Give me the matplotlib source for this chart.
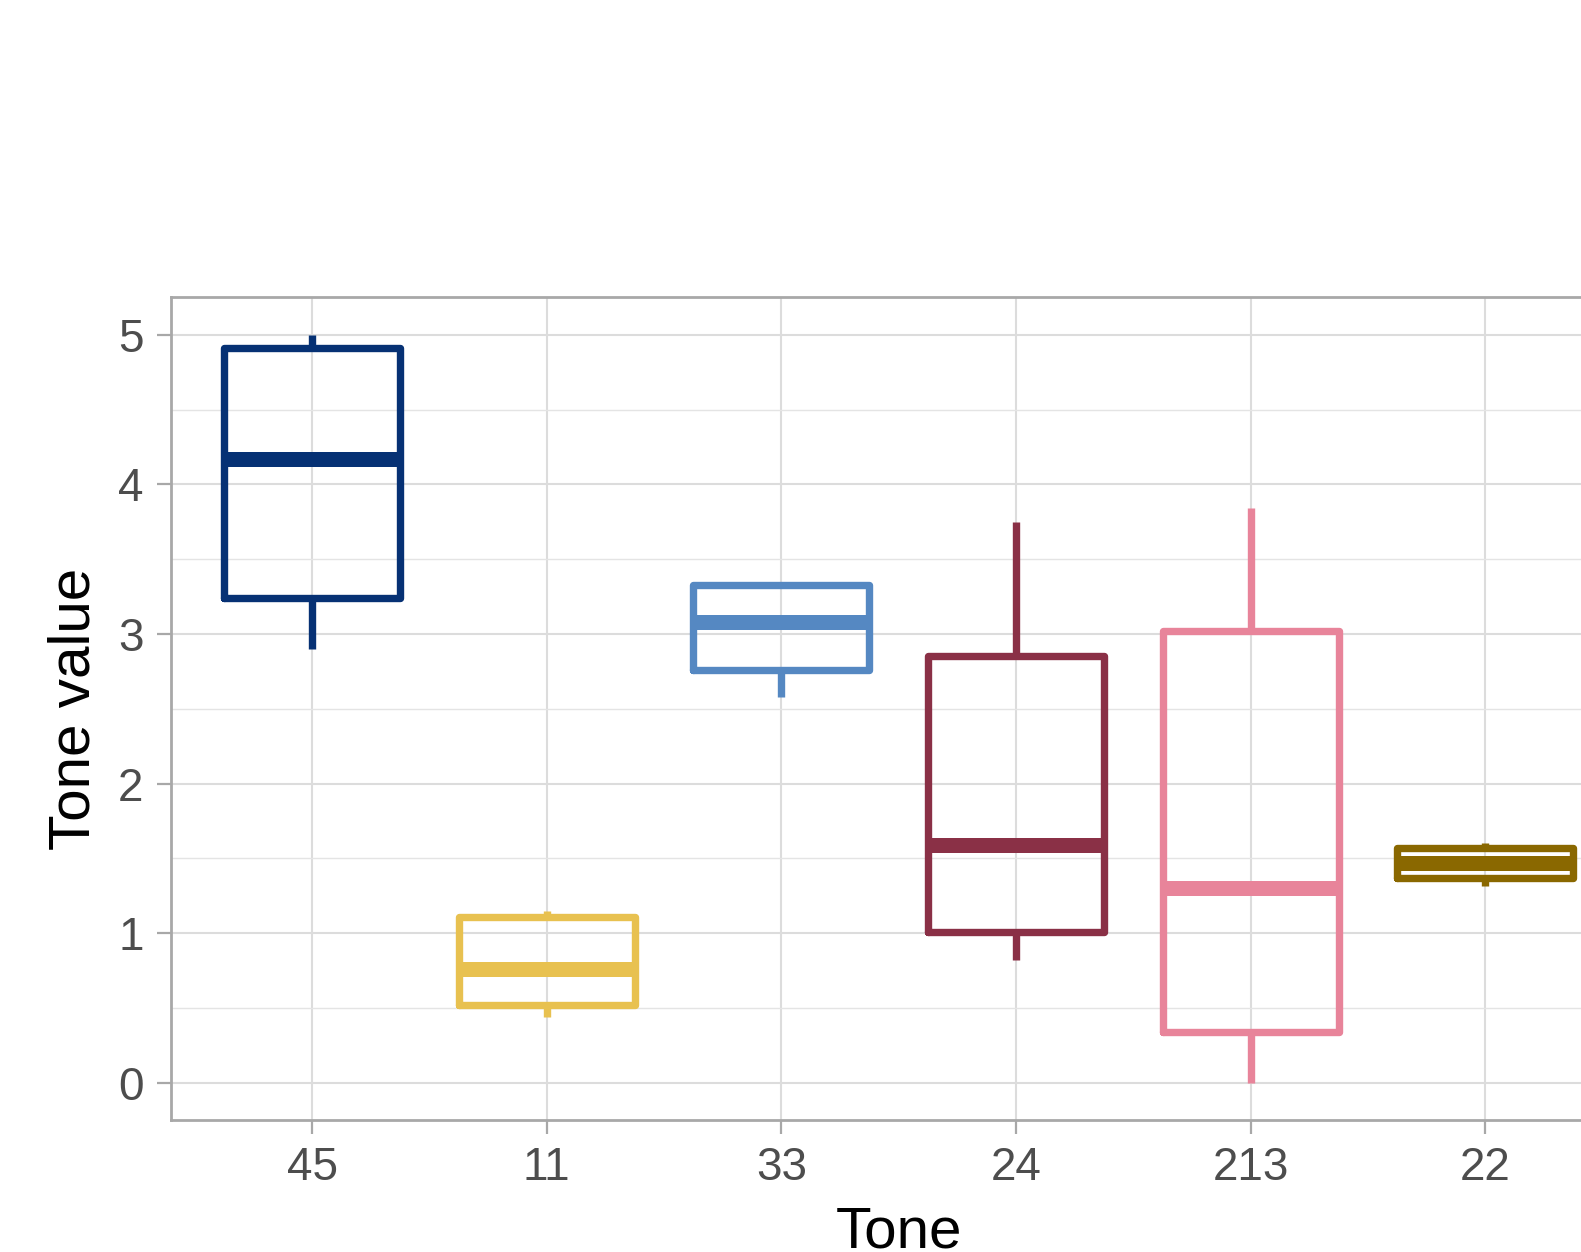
import matplotlib
matplotlib.use("Agg")
import matplotlib.pyplot as plt
from matplotlib.ticker import MultipleLocator

plt.rcParams['font.family'] = ['Liberation Sans', 'DejaVu Sans']

# tone categories and their box statistics
tones = ["45", "11", "33", "24", "213", "22"]
whisker_low = [2.90, 0.44, 2.58, 0.82, 0.00, 1.315]
q1 = [3.24, 0.52, 2.76, 1.01, 0.34, 1.366]
medians = [4.17, 0.76, 3.08, 1.59, 1.30, 1.47]
q3 = [4.915, 1.11, 3.33, 2.85, 3.02, 1.572]
whisker_high = [5.00, 1.15, 3.33, 3.75, 3.845, 1.60]
colors = ["#063174", "#E8C150", "#5588C2", "#8A3046", "#E8849A", "#8A6800"]

fig = plt.figure(figsize=(15.81, 12.52), dpi=100)
# panel runs past the right edge of the canvas
ax = fig.add_axes([0.1084, 0.1054, 0.920, 0.657])

grid_major = "#dcdcdc"
grid_minor = "#e4e4e4"
edge = "#a8a8a8"

for i, tone in enumerate(tones):
    pos = i + 1
    stats = [{
        "whislo": whisker_low[i], "q1": q1[i], "med": medians[i],
        "q3": q3[i], "whishi": whisker_high[i], "label": tone,
    }]
    c = colors[i]
    ax.bxp(stats, positions=[pos], widths=0.75, showcaps=False, showfliers=False,
           boxprops=dict(color=c, linewidth=5.3, solid_joinstyle="round",
                         solid_capstyle="round"),
           whiskerprops=dict(color=c, linewidth=5.3, solid_capstyle="butt"),
           medianprops=dict(color=c, linewidth=10.8, solid_capstyle="butt"),
           zorder=3)

ax.set_xlim(0.4, 6.6)
ax.set_ylim(-0.25, 5.25)
ax.set_xticks(range(1, len(tones) + 1))
ax.set_xticklabels(tones)
ax.yaxis.set_major_locator(MultipleLocator(1))
ax.yaxis.set_minor_locator(MultipleLocator(0.5))

ax.grid(which="major", axis="both", color=grid_major, linewidth=1.5, zorder=0)
ax.grid(which="minor", axis="y", color=grid_minor, linewidth=1.0, zorder=0)
ax.set_axisbelow(True)

for s in ax.spines.values():
    s.set_color(edge)
    s.set_linewidth(2.0)

ax.tick_params(axis="both", which="major", length=10, width=1.6, color=edge,
               labelsize=33, labelcolor="#4d4d4d")
ax.tick_params(axis="x", which="major", pad=9)
ax.tick_params(axis="y", which="major", pad=10)
ax.tick_params(axis="y", which="minor", length=0)

ax.set_xlabel("Tone", fontsize=42, color="black", labelpad=11)
ax.set_ylabel("Tone value", fontsize=42, color="black", labelpad=12)

fig.savefig("out.png", dpi=100, facecolor="white")
